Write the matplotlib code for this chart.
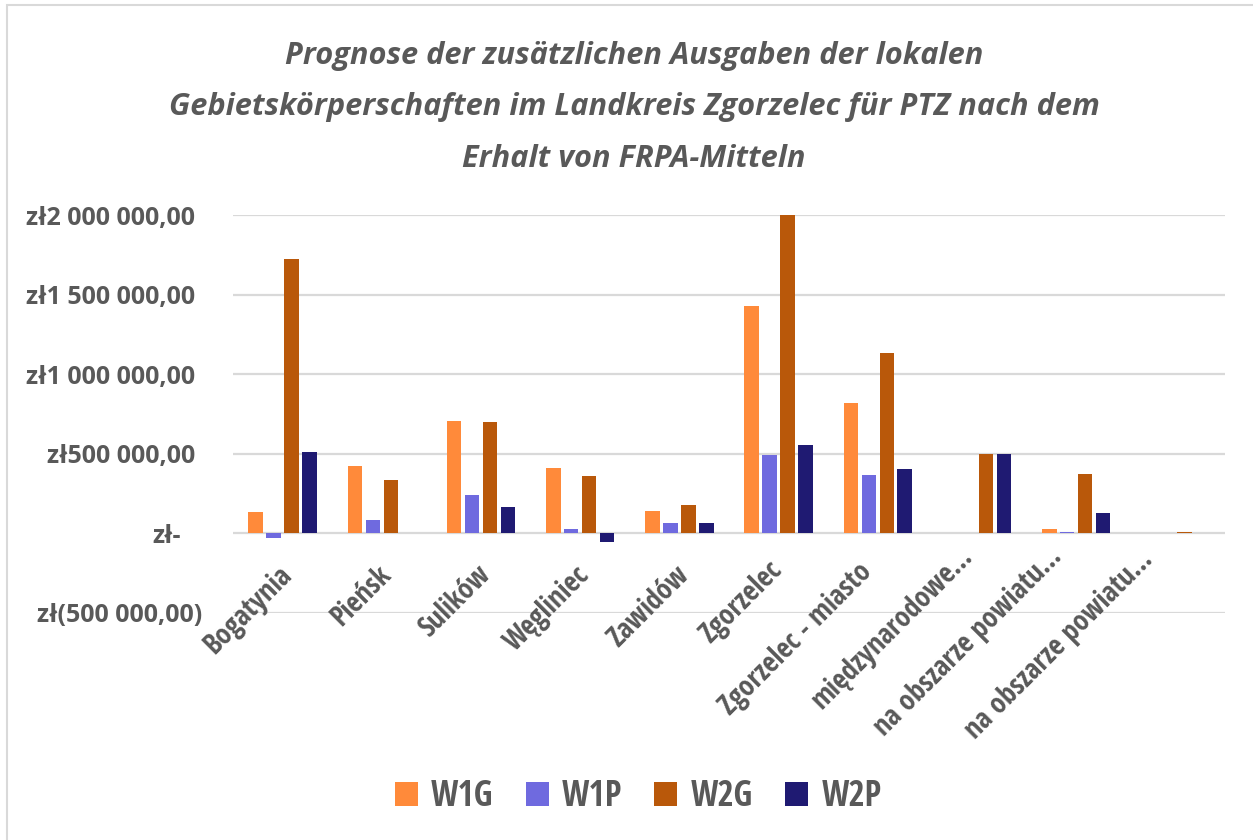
import matplotlib
matplotlib.use("Agg")
import matplotlib.pyplot as plt
from matplotlib.patches import Patch, Rectangle
from matplotlib.transforms import ScaledTranslation
from matplotlib import font_manager
import numpy as np

categories = ["Bogatynia", "Pieńsk", "Sulików", "Węgliniec", "Zawidów",
              "Zgorzelec", "Zgorzelec - miasto", "międzynarodowe…",
              "na obszarze powiatu…", "na obszarze powiatu…"]
series_names = ["W1G", "W1P", "W2G", "W2P"]
w1g = [134000, 421000, 707000, 410000, 142000, 1428000, 819000, 0, 25000, 0]
w1p = [-31000, 86000, 243000, 25000, 63000, 492000, 364000, 0, 8000, 0]
w2g = [1721000, 337000, 699000, 360000, 178000, 2000000, 1133000, 500000, 371000, 8000]
w2p = [511000, 2000, 165000, -55000, 63000, 555000, 404000, 500000, 129000, 2000]
colors = ["#FF8A3A", "#6F6ADF", "#B9580A", "#1F1A72"]
y_ticks = [-500000, 0, 500000, 1000000, 1500000, 2000000]
y_tick_labels = ["zł(500 000,00)", "zł-", "zł500 000,00", "zł1 000 000,00",
                 "zł1 500 000,00", "zł2 000 000,00"]
title_lines = ["Prognose der zusätzlichen Ausgaben der lokalen",
               "Gebietskörperschaften im Landkreis Zgorzelec für PTZ nach dem",
               "Erhalt von FRPA-Mitteln"]

# extra pixel shift (right, down) of the longer category labels
label_nudge = [(0, 0), (0, 0), (0, 0), (0, 0), (0, 0),
               (-6, -5), (-15, -3), (-14, -18), (-24, -18), (-32, -15)]


def entries(name, style=None, min_weight=600):
    out = []
    for f in font_manager.fontManager.ttflist:
        wt = f.weight if isinstance(f.weight, int) else font_manager.weight_dict.get(f.weight, 400)
        if f.name == name and wt >= min_weight and (style is None or f.style == style):
            out.append(f)
    return out


COND = "Open Sans Condensed"
HAS_COND = bool(entries(COND))
BASE = ["Open Sans", "DejaVu Sans"]
COND_FAM = ([COND] if HAS_COND else []) + BASE

# italic title face: a condensed bold italic if one is installed
title_fam = BASE
for cand in ("Open Sans Condensed", "Open Sans SemiCondensed"):
    if entries(cand, style="italic"):
        title_fam = [cand] + BASE
        break

plt.rcParams['font.family'] = BASE

W, H, DPI = 1253, 840, 100
TXT = "#595959"
GRID = "#D9D9D9"

fig = plt.figure(figsize=(W / DPI, H / DPI), dpi=DPI)
fig.patch.set_facecolor("white")
renderer = fig.canvas.get_renderer()

# outer chart frame
fig.add_artist(Rectangle((7 / W, -0.1), 1.2, 1 - 5 / H + 0.1,
                         transform=fig.transFigure, fill=False,
                         edgecolor="#D9D9D9", linewidth=1.5))

ax = fig.add_axes([233 / W, 1 - 613 / H, (1225 - 233) / W, (613 - 215) / H])
ax.set_facecolor("none")

x = np.arange(len(categories))
stride = 0.181
bw = 0.146
for k, (vals, c, name) in enumerate(zip([w1g, w1p, w2g, w2p], colors, series_names)):
    ax.bar(x + (k - 1.5) * stride, vals, width=bw, color=c, label=name,
           linewidth=0, zorder=3)

ax.set_xlim(-0.5, len(categories) - 0.5)
ax.set_ylim(-500000, 2000000)
ax.set_yticks(y_ticks)
ax.set_yticklabels(y_tick_labels)
ax.grid(axis="y", color=GRID, linewidth=1.6, zorder=0)
ax.tick_params(axis="y", length=0, pad=27, labelsize=18, labelcolor=TXT)
for lab in ax.get_yticklabels():
    lab.set_fontweight("bold")
ylabs = ax.get_yticklabels()
# accounting-format alignment of zero and negative values
ylabs[1].set_transform(ylabs[1].get_transform() + ScaledTranslation(-15 / DPI, 0, fig.dpi_scale_trans))
ylabs[0].set_transform(ylabs[0].get_transform() + ScaledTranslation(7 / DPI, 0, fig.dpi_scale_trans))

ax.set_xticks([])
for s in ax.spines.values():
    s.set_visible(False)

# category labels hang from the zero line
XLAB = 20.5 if HAS_COND else 17
for i, (cat, (nx, ny)) in enumerate(zip(categories, label_nudge)):
    ax.annotate(cat, xy=(i, 0), xytext=(-5 + nx, -27 - ny), textcoords="offset pixels",
                rotation=45, rotation_mode="anchor", ha="right", va="top",
                fontsize=XLAB, fontweight="bold", family=COND_FAM, color=TXT,
                annotation_clip=False)

# title, sized so the widest line spans 932 px
baselines = [64, 115.5, 167]
title_texts = []
for line, yb in zip(title_lines, baselines):
    t = fig.text(634 / W, 1 - yb / H, line, ha="center", va="baseline",
                 fontsize=24, fontweight="bold", fontstyle="italic",
                 family=title_fam, color=TXT)
    title_texts.append(t)
wid = title_texts[1].get_window_extent(renderer).width
for t in title_texts:
    t.set_fontsize(24 * 932 / wid)

handles = [Patch(facecolor=c, edgecolor="none") for c in colors]
LEG = 25 if HAS_COND else 21
fig.legend(handles, series_names, loc="center", ncol=4, frameon=False,
           bbox_to_anchor=(638 / W, 1 - 797 / H),
           prop={"weight": "bold", "size": LEG, "family": COND_FAM},
           labelcolor=TXT, handlelength=16.5 / LEG, handleheight=16.5 / LEG,
           handletextpad=0.38, columnspacing=0.93)

fig.savefig("out.png", dpi=DPI)
